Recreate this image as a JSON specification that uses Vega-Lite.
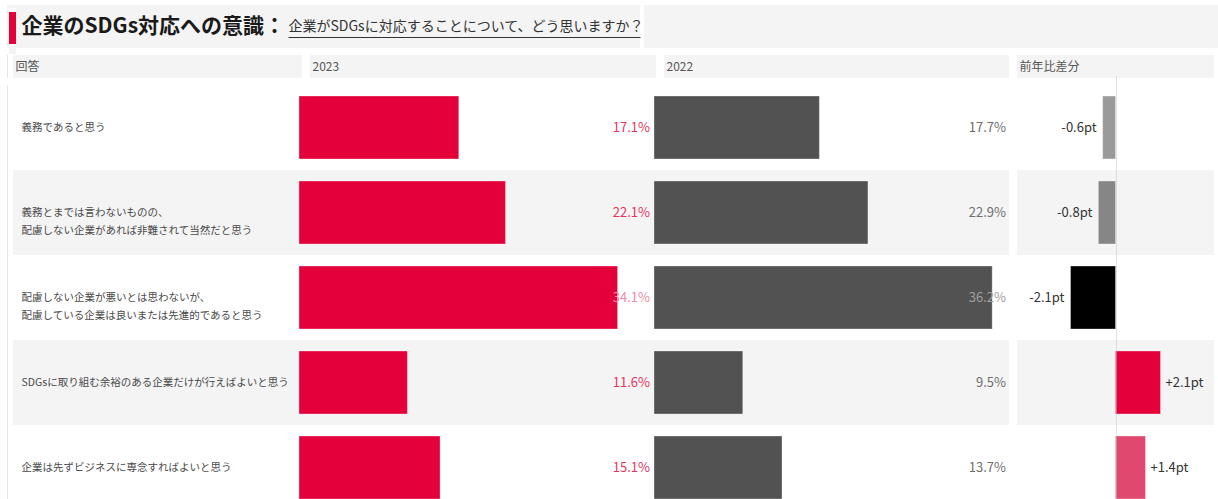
{
  "$schema": "https://vega.github.io/schema/vega-lite/v6.json",
  "padding": {"left": 7, "top": 0, "right": 0, "bottom": 0},
  "background": "#ffffff",
  "config": {
    "font": "Noto Sans CJK JP",
    "view": {"stroke": null},
    "concat": {"spacing": 0}
  },
  "datasets": {
    "rows": [
      {"answer": "義務であると思う", "y2023": 0.171, "y2022": 0.177, "diff": -0.6, "diffLabel": "-0.6pt"},
      {"answer": "義務とまでは言わないものの、\n配慮しない企業があれば非難されて当然だと思う", "y2023": 0.221, "y2022": 0.229, "diff": -0.8, "diffLabel": "-0.8pt"},
      {"answer": "配慮しない企業が悪いとは思わないが、\n配慮している企業は良いまたは先進的であると思う", "y2023": 0.341, "y2022": 0.362, "diff": -2.1, "diffLabel": "-2.1pt"},
      {"answer": "SDGsに取り組む余裕のある企業だけが行えばよいと思う", "y2023": 0.116, "y2022": 0.095, "diff": 2.1, "diffLabel": "+2.1pt"},
      {"answer": "企業は先ずビジネスに専念すればよいと思う", "y2023": 0.151, "y2022": 0.137, "diff": 1.4, "diffLabel": "+1.4pt"}
    ],
    "blank": [{"k": 1}]
  },
  "vconcat": [
    {
      "hconcat": [
        {"width": 2, "height": 43, "data": {"name": "blank"}, "mark": {"type": "text", "text": ""}, "encoding": {}, "view": {"fill": "#f4f4f4", "stroke": null}},
        {
          "vconcat": [
            {"width": 7, "height": 3, "data": {"name": "blank"}, "mark": {"type": "text", "text": ""}, "encoding": {}, "view": {"fill": "#f4f4f4", "stroke": null}},
            {"width": 7, "height": 32, "data": {"name": "blank"}, "mark": {"type": "text", "text": ""}, "encoding": {}, "view": {"fill": "#e4003a", "stroke": null}},
            {"width": 7, "height": 8, "data": {"name": "blank"}, "mark": {"type": "text", "text": ""}, "encoding": {}, "view": {"fill": "#f4f4f4", "stroke": null}}
          ],
          "spacing": 0
        },
        {
          "width": 272, "height": 43,
          "data": {"values": [{"t": "企業のSDGs対応への意識："}]},
          "mark": {"type": "rect", "color": "#f4f4f4"},
          "encoding": {
            "y": {"field": "t", "type": "nominal", "title": null, "scale": {"paddingInner": 0, "paddingOuter": 0},
                  "axis": {"orient": "left", "labelAlign": "left", "labelBaseline": "middle", "labelPadding": -5, "ticks": false, "tickSize": 0, "domain": false, "grid": false, "title": null, "labelFontSize": 21, "labelFontWeight": "bold", "labelColor": "#1a1a1a", "labelLimit": 0, "labelBound": false, "labelFlush": false, "zindex": 1}}
          }
        },
        {
          "width": 352, "height": 43,
          "data": {"values": [{"t": "企業がSDGsに対応することについて、どう思いますか？"}]},
          "mark": {"type": "rect", "color": "#f4f4f4"},
          "encoding": {
            "x": {"datum": 0, "type": "quantitative", "scale": {"domain": [0, 1], "nice": false},
                  "axis": {"orient": "bottom", "offset": -11, "domain": true, "domainColor": "#333333", "domainWidth": 1, "ticks": false, "labels": false, "grid": false, "title": null, "zindex": 1}},
            "x2": {"datum": 1},
            "y": {"field": "t", "type": "nominal", "title": null, "scale": {"paddingInner": 0, "paddingOuter": 0},
                  "axis": {"orient": "left", "labelAlign": "left", "labelBaseline": "middle", "labelPadding": 0, "ticks": false, "tickSize": 0, "domain": false, "grid": false, "title": null, "labelFontSize": 14, "labelColor": "#333333", "labelLimit": 0, "labelBound": false, "labelFlush": false, "zindex": 1}}
          }
        },
        {"width": 578, "height": 43, "data": {"name": "blank"}, "mark": {"type": "text", "text": ""}, "encoding": {}, "view": {"fill": "#f4f4f4", "stroke": null}}
      ],
      "spacing": 0
    },
    {
      "vconcat": [
        {
          "hconcat": [
            {"width": 1, "height": 23, "data": {"name": "blank"}, "mark": {"type": "text", "text": ""}, "encoding": {}, "view": {"fill": "#e6e6e6", "stroke": null}},
            {"width": 5, "height": 23, "data": {"name": "blank"}, "mark": {"type": "text", "text": ""}, "encoding": {}},
            {"width": 289, "height": 23, "data": {"values": [{"h": "回答"}]}, "mark": {"type": "rect", "color": "#f4f4f4"},
             "encoding": {"y": {"field": "h", "type": "nominal", "title": null, "scale": {"paddingInner": 0, "paddingOuter": 0},
               "axis": {"orient": "left", "labelAlign": "left", "labelBaseline": "middle", "labelPadding": -2, "ticks": false, "tickSize": 0, "domain": false, "grid": false, "title": null, "labelFontSize": 12, "labelColor": "#555555", "labelLimit": 0, "labelBound": false, "labelFlush": false, "zindex": 1}}}},
            {"width": 8, "height": 23, "data": {"name": "blank"}, "mark": {"type": "text", "text": ""}, "encoding": {}},
            {"width": 346, "height": 23, "data": {"values": [{"h": "2023"}]}, "mark": {"type": "rect", "color": "#f4f4f4"},
             "encoding": {"y": {"field": "h", "type": "nominal", "title": null, "scale": {"paddingInner": 0, "paddingOuter": 0},
               "axis": {"orient": "left", "labelAlign": "left", "labelBaseline": "middle", "labelPadding": -2, "ticks": false, "tickSize": 0, "domain": false, "grid": false, "title": null, "labelFontSize": 12, "labelColor": "#555555", "labelLimit": 0, "labelBound": false, "labelFlush": false, "zindex": 1}}}},
            {"width": 8, "height": 23, "data": {"name": "blank"}, "mark": {"type": "text", "text": ""}, "encoding": {}},
            {"width": 345, "height": 23, "data": {"values": [{"h": "2022"}]}, "mark": {"type": "rect", "color": "#f4f4f4"},
             "encoding": {"y": {"field": "h", "type": "nominal", "title": null, "scale": {"paddingInner": 0, "paddingOuter": 0},
               "axis": {"orient": "left", "labelAlign": "left", "labelBaseline": "middle", "labelPadding": -2, "ticks": false, "tickSize": 0, "domain": false, "grid": false, "title": null, "labelFontSize": 12, "labelColor": "#555555", "labelLimit": 0, "labelBound": false, "labelFlush": false, "zindex": 1}}}},
            {"width": 8, "height": 23, "data": {"name": "blank"}, "mark": {"type": "text", "text": ""}, "encoding": {}},
            {"width": 197, "height": 23, "data": {"values": [{"h": "前年比差分"}]}, "mark": {"type": "rect", "color": "#f4f4f4"},
             "encoding": {"y": {"field": "h", "type": "nominal", "title": null, "scale": {"paddingInner": 0, "paddingOuter": 0},
               "axis": {"orient": "left", "labelAlign": "left", "labelBaseline": "middle", "labelPadding": -2, "ticks": false, "tickSize": 0, "domain": false, "grid": false, "title": null, "labelFontSize": 12, "labelColor": "#555555", "labelLimit": 0, "labelBound": false, "labelFlush": false, "zindex": 1}}}}
          ],
          "spacing": 0
        },
        {
          "hconcat": [
            {"width": 1, "height": 416, "data": {"name": "blank"}, "mark": {"type": "text", "text": ""}, "encoding": {}, "view": {"fill": "#e6e6e6", "stroke": null}},
            {"width": 5, "height": 416, "data": {"name": "blank"}, "mark": {"type": "text", "text": ""}, "encoding": {}},
            {
              "width": 286, "height": 416,
              "data": {"name": "rows"},
              "mark": {"type": "rect", "clip": true},
              "encoding": {
                "y": {"field": "answer", "type": "nominal", "sort": null, "title": null,
                      "scale": {"domain": ["義務であると思う", "義務とまでは言わないものの、\n配慮しない企業があれば非難されて当然だと思う", "配慮しない企業が悪いとは思わないが、\n配慮している企業は良いまたは先進的であると思う", "SDGsに取り組む余裕のある企業だけが行えばよいと思う", "企業は先ずビジネスに専念すればよいと思う"], "paddingInner": 0, "paddingOuter": 0, "range": [0, 425]},
                      "axis": {"orient": "left", "labelAlign": "left", "labelBaseline": "middle", "labelPadding": -8, "ticks": false, "tickSize": 0, "domain": false, "grid": false, "title": null, "labelFontSize": 10.5, "labelColor": "#4a4a4a", "labelLineHeight": 18, "labelLimit": 0, "labelOverlap": false, "labelFlush": false, "labelBound": false, "zindex": 1, "labelExpr": "split(datum.label, '\\n')"}},
                "fill": {"field": "answer", "type": "nominal", "legend": null,
                         "scale": {"domain": ["義務であると思う", "義務とまでは言わないものの、\n配慮しない企業があれば非難されて当然だと思う", "配慮しない企業が悪いとは思わないが、\n配慮している企業は良いまたは先進的であると思う", "SDGsに取り組む余裕のある企業だけが行えばよいと思う", "企業は先ずビジネスに専念すればよいと思う"], "range": ["#ffffff", "#f4f4f4", "#ffffff", "#f4f4f4", "#ffffff"]}}
              }
            },
            {
              "width": 355, "height": 416,
              "data": {"name": "rows"},
              "layer": [
                {"mark": {"type": "rect", "clip": true},
                 "encoding": {
                   "y": {"field": "answer", "type": "nominal", "sort": null, "title": null, "axis": null,
                         "scale": {"domain": ["義務であると思う", "義務とまでは言わないものの、\n配慮しない企業があれば非難されて当然だと思う", "配慮しない企業が悪いとは思わないが、\n配慮している企業は良いまたは先進的であると思う", "SDGsに取り組む余裕のある企業だけが行えばよいと思う", "企業は先ずビジネスに専念すればよいと思う"], "paddingInner": 0, "paddingOuter": 0, "range": [0, 425]}},
                   "x": {"datum": 0, "type": "quantitative", "scale": {"domain": [0, 0.38], "nice": false}, "axis": null},
                   "x2": {"datum": 0.38},
                   "fill": {"field": "answer", "type": "nominal", "legend": null,
                            "scale": {"domain": ["義務であると思う", "義務とまでは言わないものの、\n配慮しない企業があれば非難されて当然だと思う", "配慮しない企業が悪いとは思わないが、\n配慮している企業は良いまたは先進的であると思う", "SDGsに取り組む余裕のある企業だけが行えばよいと思う", "企業は先ずビジネスに専念すればよいと思う"], "range": ["#ffffff", "#f4f4f4", "#ffffff", "#f4f4f4", "#ffffff"]}}
                 }},
                {"mark": {"type": "bar", "color": "#e4003a", "height": {"band": 0.74}, "stroke": "#ffffff", "strokeOpacity": 0.3, "strokeWidth": 1, "clip": true},
                 "encoding": {
                   "y": {"field": "answer", "type": "nominal", "sort": null, "title": null, "axis": null},
                   "x": {"field": "y2023", "type": "quantitative", "axis": null}
                 }},
                {"mark": {"type": "text", "align": "right", "baseline": "middle", "dx": -4, "fontSize": 13, "clip": true},
                 "encoding": {
                   "y": {"field": "answer", "type": "nominal", "sort": null, "title": null, "axis": null},
                   "x": {"datum": 0.38, "type": "quantitative", "axis": null},
                   "text": {"field": "y2023", "type": "quantitative", "format": ".1%"},
                   "color": {"condition": {"test": "datum.y2023 > 0.3", "value": "#f38aa4"}, "value": "#e8335d"}
                 }}
              ]
            },
            {
              "width": 355, "height": 416,
              "data": {"name": "rows"},
              "layer": [
                {"mark": {"type": "rect", "clip": true},
                 "encoding": {
                   "y": {"field": "answer", "type": "nominal", "sort": null, "title": null, "axis": null,
                         "scale": {"domain": ["義務であると思う", "義務とまでは言わないものの、\n配慮しない企業があれば非難されて当然だと思う", "配慮しない企業が悪いとは思わないが、\n配慮している企業は良いまたは先進的であると思う", "SDGsに取り組む余裕のある企業だけが行えばよいと思う", "企業は先ずビジネスに専念すればよいと思う"], "paddingInner": 0, "paddingOuter": 0, "range": [0, 425]}},
                   "x": {"datum": 0, "type": "quantitative", "scale": {"domain": [0, 0.38], "nice": false}, "axis": null},
                   "x2": {"datum": 0.38},
                   "fill": {"field": "answer", "type": "nominal", "legend": null,
                            "scale": {"domain": ["義務であると思う", "義務とまでは言わないものの、\n配慮しない企業があれば非難されて当然だと思う", "配慮しない企業が悪いとは思わないが、\n配慮している企業は良いまたは先進的であると思う", "SDGsに取り組む余裕のある企業だけが行えばよいと思う", "企業は先ずビジネスに専念すればよいと思う"], "range": ["#ffffff", "#f4f4f4", "#ffffff", "#f4f4f4", "#ffffff"]}}
                 }},
                {"mark": {"type": "bar", "color": "#525252", "height": {"band": 0.74}, "stroke": "#ffffff", "strokeOpacity": 0.3, "strokeWidth": 1, "clip": true},
                 "encoding": {
                   "y": {"field": "answer", "type": "nominal", "sort": null, "title": null, "axis": null},
                   "x": {"field": "y2022", "type": "quantitative", "axis": null}
                 }},
                {"mark": {"type": "text", "align": "right", "baseline": "middle", "dx": -3, "fontSize": 13, "clip": true},
                 "encoding": {
                   "y": {"field": "answer", "type": "nominal", "sort": null, "title": null, "axis": null},
                   "x": {"datum": 0.38, "type": "quantitative", "axis": null},
                   "text": {"field": "y2022", "type": "quantitative", "format": ".1%"},
                   "color": {"condition": {"test": "datum.y2022 > 0.3", "value": "#a0a0a0"}, "value": "#6e6e6e"}
                 }}
              ]
            },
            {"width": 8, "height": 416, "data": {"name": "blank"}, "mark": {"type": "text", "text": ""}, "encoding": {}},
            {
              "width": 197, "height": 416,
              "data": {"name": "rows"},
              "layer": [
                {"mark": {"type": "rect", "clip": true},
                 "encoding": {
                   "y": {"field": "answer", "type": "nominal", "sort": null, "title": null, "axis": null,
                         "scale": {"domain": ["義務であると思う", "義務とまでは言わないものの、\n配慮しない企業があれば非難されて当然だと思う", "配慮しない企業が悪いとは思わないが、\n配慮している企業は良いまたは先進的であると思う", "SDGsに取り組む余裕のある企業だけが行えばよいと思う", "企業は先ずビジネスに専念すればよいと思う"], "paddingInner": 0, "paddingOuter": 0, "range": [0, 425]}},
                   "x": {"datum": -4.6, "type": "quantitative", "scale": {"domain": [-4.6, 4.6], "nice": false},
                         "axis": {"values": [0], "grid": true, "gridDash": [1, 1], "gridColor": "#c4c4c4", "gridWidth": 1, "labels": false, "ticks": false, "domain": false, "title": null, "zindex": 1}},
                   "x2": {"datum": 4.6},
                   "fill": {"field": "answer", "type": "nominal", "legend": null,
                            "scale": {"domain": ["義務であると思う", "義務とまでは言わないものの、\n配慮しない企業があれば非難されて当然だと思う", "配慮しない企業が悪いとは思わないが、\n配慮している企業は良いまたは先進的であると思う", "SDGsに取り組む余裕のある企業だけが行えばよいと思う", "企業は先ずビジネスに専念すればよいと思う"], "range": ["#ffffff", "#f4f4f4", "#ffffff", "#f4f4f4", "#ffffff"]}}
                 }},
                {"mark": {"type": "bar", "height": {"band": 0.74}, "stroke": "#ffffff", "strokeOpacity": 0.3, "strokeWidth": 1, "clip": true},
                 "encoding": {
                   "y": {"field": "answer", "type": "nominal", "sort": null, "title": null, "axis": null},
                   "x": {"field": "diff", "type": "quantitative",
                         "axis": {"values": [0], "grid": true, "gridDash": [1, 1], "gridColor": "#c4c4c4", "gridWidth": 1, "labels": false, "ticks": false, "domain": false, "title": null, "zindex": 1}},
                   "color": {"field": "diff", "type": "quantitative", "legend": null,
                             "scale": {"domain": [-2.1, 0, 2.1], "range": ["#000000", "#d8d8d8", "#e4003a"], "interpolate": "rgb"}}
                 }},
                {"transform": [{"filter": "datum.diff < 0"}],
                 "mark": {"type": "text", "align": "right", "baseline": "middle", "dx": -6, "fontSize": 13, "color": "#333333", "clip": true},
                 "encoding": {
                   "y": {"field": "answer", "type": "nominal", "sort": null, "title": null, "axis": null},
                   "x": {"field": "diff", "type": "quantitative",
                         "axis": {"values": [0], "grid": true, "gridDash": [1, 1], "gridColor": "#c4c4c4", "gridWidth": 1, "labels": false, "ticks": false, "domain": false, "title": null, "zindex": 1}},
                   "text": {"field": "diffLabel", "type": "nominal"}
                 }},
                {"transform": [{"filter": "datum.diff > 0"}],
                 "mark": {"type": "text", "align": "left", "baseline": "middle", "dx": 5, "fontSize": 13, "color": "#333333", "clip": true},
                 "encoding": {
                   "y": {"field": "answer", "type": "nominal", "sort": null, "title": null, "axis": null},
                   "x": {"field": "diff", "type": "quantitative",
                         "axis": {"values": [0], "grid": true, "gridDash": [1, 1], "gridColor": "#c4c4c4", "gridWidth": 1, "labels": false, "ticks": false, "domain": false, "title": null, "zindex": 1}},
                   "text": {"field": "diffLabel", "type": "nominal"}
                 }}
              ]
            }
          ],
          "spacing": 0
        }
      ],
      "spacing": 7
    }
  ],
  "spacing": 0
}
